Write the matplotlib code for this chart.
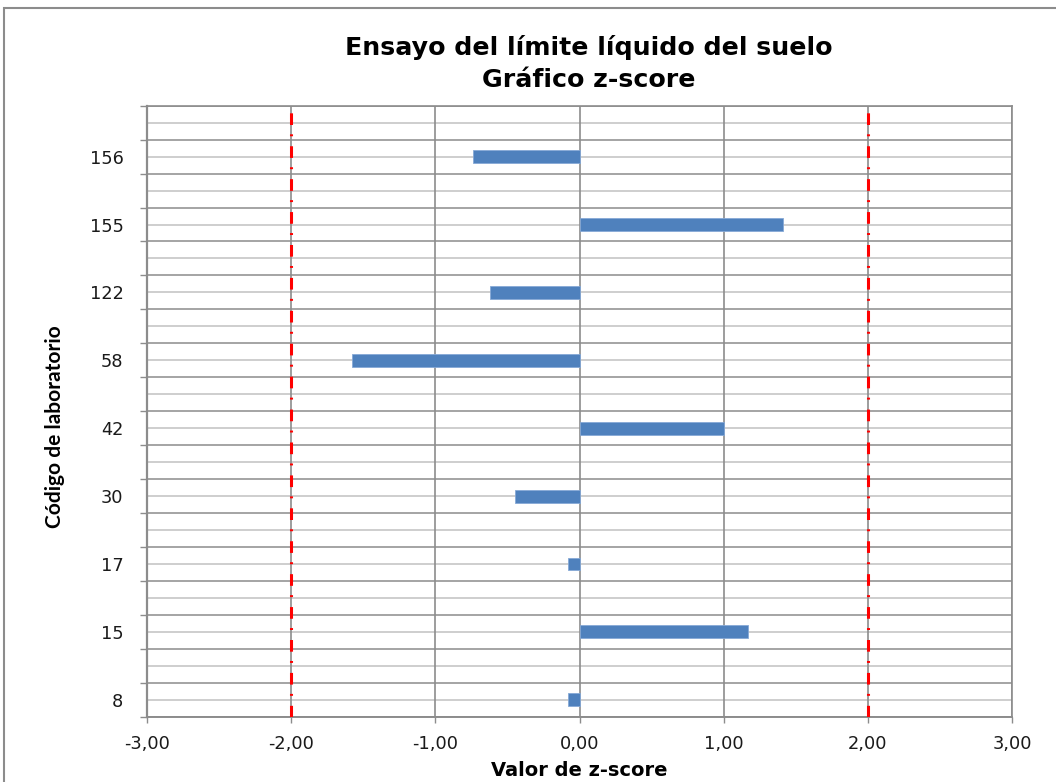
import matplotlib
matplotlib.use("Agg")
import matplotlib.pyplot as plt
from matplotlib.patches import Rectangle
from matplotlib.ticker import FixedLocator, FuncFormatter

plt.rcParams['font.family'] = ['DejaVu Sans']
plt.rcParams['lines.scale_dashes'] = False

# ---- data (bottom to top) ----
lab_codes = ["8", "15", "17", "30", "42", "58", "122", "155", "156"]
z_scores = [-0.08, 1.17, -0.08, -0.45, 1.00, -1.58, -0.62, 1.41, -0.74]
limits = [-2.0, 2.0]
x_ticks = [-3, -2, -1, 0, 1, 2, 3]

title_lines = ["Ensayo del límite líquido del suelo", "Gráfico z-score"]
xlabel_txt = "Valor de z-score"
ylabel_txt = "Código de laboratorio"

W, H = 1056, 782
fig = plt.figure(figsize=(W / 100, H / 100), dpi=100)

ax_l, ax_r, ax_t, ax_b = 147, 1012, 105.7, 716.7
ax = fig.add_axes([ax_l / W, 1 - ax_b / H, (ax_r - ax_l) / W, (ax_b - ax_t) / H])

n_slots = 2 * len(lab_codes)
positions = [2 * i for i in range(len(lab_codes))]

grid_dark = "#8c8c8c"
grid_light = "#c6c6c6"

# gridlines
for k in range(n_slots):
    ax.axhline(k, color=grid_light, lw=1.2, zorder=1)
for k in range(n_slots + 1):
    ax.axhline(k - 0.5, color=grid_dark, lw=1.1, zorder=1)
for xv in x_ticks:
    ax.axvline(xv, color=grid_dark, lw=1.2, zorder=1)

# bars
ax.barh(positions, z_scores, height=0.38, color="#4F81BD",
        edgecolor="#86A9D6", linewidth=0.6, zorder=3)

# limit lines
for lim in limits:
    ln, = ax.plot([lim, lim], [-0.5, n_slots - 0.5], color="#FF0000",
                  lw=2.2, solid_capstyle="butt", dash_capstyle="butt", zorder=4)
    ln.set_linestyle((0, (8.4, 7.2, 1.4, 6.7)))

ax.set_xlim(-3, 3)
ax.set_ylim(-0.5, n_slots - 0.5)

ax.set_xticks(x_ticks)
ax.xaxis.set_major_formatter(FuncFormatter(lambda v, p: f"{v:.2f}".replace(".", ",")))
ax.tick_params(axis="x", direction="out", length=4.5, width=1.0, color=grid_dark,
               pad=9, labelsize=12.8, labelcolor="#1a1a1a")

ax.yaxis.set_major_locator(FixedLocator([k - 0.5 for k in range(n_slots + 1)]))
ax.yaxis.set_major_formatter(FuncFormatter(lambda v, p: ""))
ax.yaxis.set_minor_locator(FixedLocator(positions))
ax.yaxis.set_minor_formatter(FuncFormatter(lambda v, p: lab_codes[int(round(v)) // 2]))
ax.tick_params(axis="y", which="major", direction="out", length=5, width=1.0, color=grid_dark)
ax.tick_params(axis="y", which="minor", length=0, pad=17, labelsize=12.8, labelcolor="#1a1a1a")

for s in ax.spines.values():
    s.set_color(grid_dark)
    s.set_linewidth(1.2)
ax.spines["left"].set_linewidth(1.6)
ax.spines["bottom"].set_linewidth(1.4)

title_font = ["DejaVu Sans"]
fig.text(589 / W, 1 - 47 / H, title_lines[0], ha="center", va="center",
         fontsize=18.2, fontweight="bold", family=title_font, color="#000000")
fig.text(589 / W, 1 - 80 / H, title_lines[1], ha="center", va="center",
         fontsize=18.2, fontweight="bold", family=title_font, color="#000000")
fig.text(579 / W, 1 - 770 / H, xlabel_txt, ha="center", va="center",
         fontsize=14, fontweight="bold", family=title_font, color="#000000")
fig.text(55 / W, 1 - 427 / H, ylabel_txt, ha="center", va="center", rotation=90,
         fontsize=15, fontweight="bold", family=["Lato", "DejaVu Sans"], color="#000000")

# chart-area border
fig.patches.append(Rectangle((4 / W, -0.1), 1.2, 1 - 8 / H + 0.1, transform=fig.transFigure,
                             fill=False, edgecolor="#8c8c8c", lw=1.5))

fig.savefig("out.png", dpi=100)
